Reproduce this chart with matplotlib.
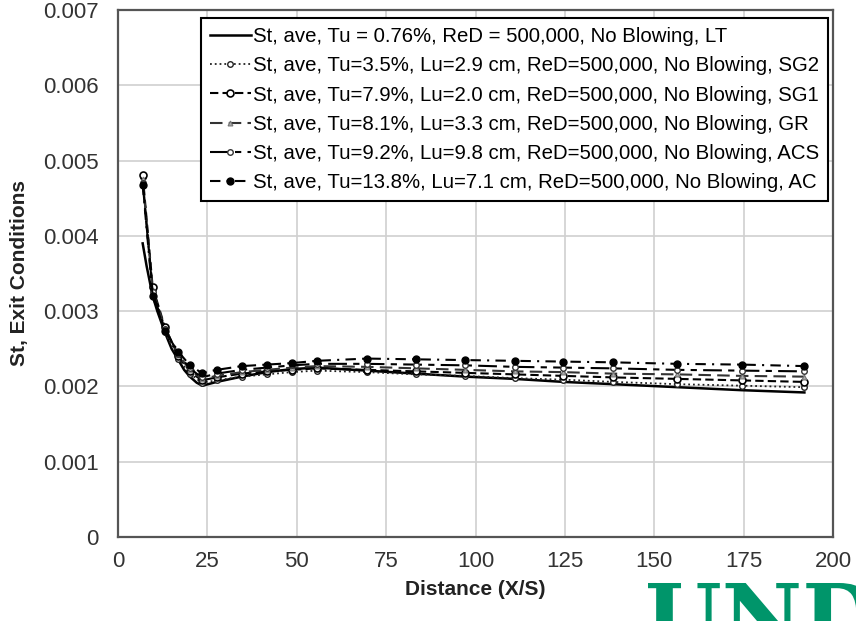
import matplotlib
matplotlib.use("Agg")
import matplotlib.pyplot as plt
from matplotlib.textpath import TextPath
from matplotlib.patches import PathPatch
from matplotlib.font_manager import FontProperties
from matplotlib.transforms import Affine2D

plt.rcParams['font.family'] = ['Liberation Sans', 'DejaVu Sans']

# ---- data ----
x_pts = [6.9, 9.7, 13.1, 16.9, 20.1, 23.4, 27.6, 34.6, 41.6, 48.6, 55.6,
         69.6, 83.4, 97.2, 111.0, 124.6, 138.5, 156.5, 174.5, 192.0]

x_lt = [6.9, 8.0, 9.7, 11.0, 13.1, 15.0, 16.9, 18.5, 20.1, 22.0, 23.6, 27.6,
        34.6, 41.6, 48.6, 55.6, 69.6, 83.4, 97.2, 111.0, 124.6, 138.5, 156.5,
        174.5, 192.0]
st_lt = [0.00390, 0.00360, 0.00320, 0.00300, 0.00272, 0.00250, 0.00235, 0.00222,
         0.00213, 0.00205, 0.00201, 0.00206, 0.00213, 0.00219, 0.00223, 0.00225,
         0.00221, 0.00217, 0.00213, 0.00210, 0.00206, 0.00203, 0.00199, 0.00195,
         0.00192]

st_sg2 = [0.00478, 0.00330, 0.00272, 0.00237, 0.00217, 0.00205, 0.00208, 0.00213,
          0.00216, 0.00219, 0.00221, 0.00219, 0.00216, 0.00214, 0.00211, 0.00209,
          0.00206, 0.00203, 0.00201, 0.00199]
st_sg1 = [0.00481, 0.00332, 0.00279, 0.00240, 0.00220, 0.00208, 0.00212, 0.00217,
          0.00220, 0.00222, 0.00224, 0.00222, 0.00220, 0.00218, 0.00216, 0.00214,
          0.00212, 0.00210, 0.00208, 0.00206]
st_gr = [0.00475, 0.00328, 0.00278, 0.00242, 0.00222, 0.00210, 0.00214, 0.00219,
         0.00222, 0.00225, 0.00227, 0.00226, 0.00224, 0.00222, 0.00220, 0.00219,
         0.00217, 0.00216, 0.00214, 0.00213]
st_acs = [0.00470, 0.00325, 0.00276, 0.00243, 0.00224, 0.00212, 0.00217, 0.00222,
          0.00225, 0.00228, 0.00230, 0.00230, 0.00229, 0.00228, 0.00226, 0.00225,
          0.00224, 0.00222, 0.00221, 0.00220]
st_ac = [0.00468, 0.00320, 0.00274, 0.00246, 0.00228, 0.00218, 0.00222, 0.00227,
         0.00229, 0.00231, 0.00234, 0.00237, 0.00236, 0.00235, 0.00234, 0.00233,
         0.00232, 0.00230, 0.00229, 0.00227]

labels = [
    "St, ave, Tu = 0.76%, ReD = 500,000, No Blowing, LT",
    "St, ave, Tu=3.5%, Lu=2.9 cm, ReD=500,000, No Blowing, SG2",
    "St, ave, Tu=7.9%, Lu=2.0 cm, ReD=500,000, No Blowing, SG1",
    "St, ave, Tu=8.1%, Lu=3.3 cm, ReD=500,000, No Blowing, GR",
    "St, ave, Tu=9.2%, Lu=9.8 cm, ReD=500,000, No Blowing, ACS",
    "St, ave, Tu=13.8%, Lu=7.1 cm, ReD=500,000, No Blowing, AC",
]

x_ticks = [0, 25, 50, 75, 100, 125, 150, 175, 200]
y_ticks = [0, 0.001, 0.002, 0.003, 0.004, 0.005, 0.006, 0.007]
y_ticklabels = ["0", "0.001", "0.002", "0.003", "0.004", "0.005", "0.006", "0.007"]

# ---- figure ----
W, H = 856, 621
fig = plt.figure(figsize=(W / 100, H / 100), dpi=100)
ax = fig.add_axes([118 / W, 1 - 537 / H, 715 / W, 527 / H])

ax.plot(x_lt, st_lt, color='black', lw=1.8, ls='-', label=labels[0])
ax.plot(x_pts, st_sg2, color='#222222', lw=1.3, ls=':', marker='o', ms=4,
        mfc='white', mec='#222222', mew=1.0, label=labels[1])
ax.plot(x_pts, st_sg1, color='black', lw=1.5, ls=(0, (4, 2)), marker='o', ms=5,
        mfc='white', mec='black', mew=1.2, label=labels[2])
ax.plot(x_pts, st_gr, color='#333333', lw=1.5, ls=(0, (6, 3)), marker='^', ms=3.5,
        mfc='#aaaaaa', mec='#777777', mew=0.8, label=labels[3])
ax.plot(x_pts, st_acs, color='black', lw=1.5, ls=(0, (9, 3, 3, 3)), marker='o', ms=4,
        mfc='white', mec='#333333', mew=1.0, label=labels[4])
ax.plot(x_pts, st_ac, color='black', lw=1.5, ls=(0, (5, 3, 1, 3)), marker='o', ms=5,
        mfc='black', mec='black', label=labels[5])

ax.set_xlim(0, 200)
ax.set_ylim(0, 0.007)
ax.set_xticks(x_ticks)
ax.set_yticks(y_ticks)
ax.set_yticklabels(y_ticklabels)
ax.tick_params(axis='both', length=0, labelsize=16, colors='#333333')
ax.tick_params(axis='y', pad=14)
ax.tick_params(axis='x', pad=10)
ax.grid(True, color='#d0d0d0', lw=1.2)
ax.set_axisbelow(True)
for s in ax.spines.values():
    s.set_color('#555555')
    s.set_linewidth(1.6)

ax.set_xlabel("Distance (X/S)", fontsize=15, fontweight='bold', color='#222222', labelpad=6)
ax.set_ylabel("St, Exit Conditions", fontsize=15, fontweight='bold', color='#222222', labelpad=10)

leg = ax.legend(loc='upper right', bbox_to_anchor=(0.993, 0.985), fontsize=14.7,
                frameon=True, fancybox=False, handlelength=2.0, handletextpad=0.1,
                borderaxespad=0, borderpad=0.45, labelspacing=0.5, framealpha=1)
leg.get_frame().set_edgecolor('black')
leg.get_frame().set_linewidth(1.5)

# partial green logo at the bottom-right (decoration, drawn as a shape)
lax = fig.add_axes([0, 0, 1, 1], zorder=-1)
lax.set_xlim(0, W)
lax.set_ylim(0, H)
lax.axis('off')
size = 88
tp = TextPath((0, 0), "UND", size=size,
              prop=FontProperties(family='DejaVu Serif', weight='bold'))
top_y = H - 583
tr = Affine2D().translate(645, top_y - 0.729 * size)
lax.add_patch(PathPatch(tr.transform_path(tp), facecolor='#00956A', edgecolor='none'))

fig.savefig("out.png", dpi=100)
